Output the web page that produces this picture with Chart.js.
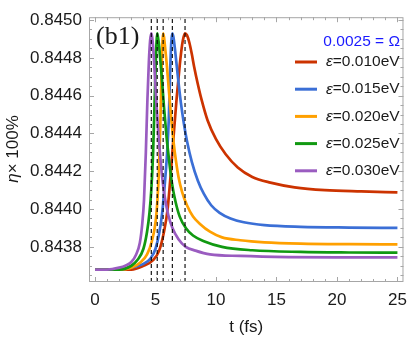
<!DOCTYPE html>
<html>
<head>
<meta charset="utf-8">
<script src="https://cdn.jsdelivr.net/npm/chart.js@4.4.1/dist/chart.umd.min.js"></script>
<style>
  html, body { margin: 0; padding: 0; background: #fff; }
</style>
</head>
<body>
<canvas id="line-chart" width="415" height="339"></canvas>
<script>
// #region Data
// ---------------------------------------
const energies = ["0.010", "0.015", "0.020", "0.025", "0.030"];
const lineColors = ["#cc3300", "#3b6fd6", "#ffa000", "#119911", "#9a5cc0"];
const peakTimes = [7.44, 6.39, 5.63, 5.14, 4.65];
const omegaLabel = "0.0025 = \u03a9";

const xTicks = [0, 5, 10, 15, 20, 25];
const yTicks = [0.8438, 0.844, 0.8442, 0.8444, 0.8446, 0.8448, 0.845];

const tRed = [0, 2, 3, 4, 4.8, 5.3, 5.7, 6.0, 6.25, 6.5, 6.75, 7.0, 7.2, 7.32, 7.44, 7.6, 7.8, 8.0, 8.2, 8.5, 8.8, 9.3, 10.0, 10.8, 11.8, 13, 14.5, 16.5, 19, 22, 25];
const etaRed = [0.84368, 0.84368, 0.84368, 0.8437, 0.84373, 0.84378, 0.84388, 0.844, 0.84418, 0.84439, 0.84459, 0.84476, 0.84487, 0.84491, 0.84493, 0.84492, 0.84488, 0.84482, 0.84475, 0.84466, 0.84458, 0.84447, 0.84437, 0.84429, 0.84422, 0.84417, 0.84414, 0.844115, 0.8441, 0.844093, 0.844088];

const tBlue = [0, 2, 3, 4, 4.6, 5.0, 5.3, 5.55, 5.75, 5.95, 6.1, 6.2, 6.3, 6.39, 6.48, 6.6, 6.75, 6.9, 7.1, 7.35, 7.6, 8.0, 8.5, 9.0, 9.6, 10.3, 11.2, 12.3, 14, 17, 21, 25];
const etaBlue = [0.84368, 0.84368, 0.84369, 0.84371, 0.84374, 0.84379, 0.84387, 0.84398, 0.84412, 0.84429, 0.84448, 0.84471, 0.84488, 0.84493, 0.84491, 0.84485, 0.84476, 0.84467, 0.84456, 0.84445, 0.84436, 0.84425, 0.84415, 0.84408, 0.84402, 0.84398, 0.84395, 0.84393, 0.843915, 0.843906, 0.843902, 0.8439];

const tOrange = [0, 2, 3, 3.8, 4.3, 4.7, 5.0, 5.15, 5.28, 5.4, 5.5, 5.57, 5.63, 5.7, 5.8, 5.95, 6.1, 6.3, 6.5, 6.7, 6.9, 7.2, 7.6, 8.1, 8.7, 9.5, 10.5, 12, 14, 17, 21, 25];
const etaOrange = [0.84368, 0.84368, 0.84369, 0.84372, 0.84376, 0.84383, 0.84393, 0.84404, 0.8442, 0.84445, 0.84473, 0.84488, 0.84493, 0.84491, 0.84485, 0.84475, 0.84463, 0.84448, 0.84435, 0.84425, 0.84417, 0.84409, 0.84402, 0.84396, 0.84392, 0.84388, 0.84385, 0.843835, 0.843824, 0.843817, 0.843814, 0.843813];

const tGreen = [0, 2, 3, 3.5, 4.0, 4.3, 4.5, 4.65, 4.8, 4.93, 5.03, 5.09, 5.14, 5.2, 5.3, 5.42, 5.55, 5.7, 5.9, 6.1, 6.35, 6.65, 7.0, 7.5, 8.1, 9, 10.5, 13, 17, 21, 25];
const etaGreen = [0.84368, 0.84368, 0.8437, 0.84373, 0.84379, 0.84388, 0.84398, 0.8441, 0.8443, 0.84458, 0.8448, 0.84489, 0.84493, 0.84491, 0.84486, 0.84477, 0.84467, 0.84454, 0.84439, 0.84427, 0.84414, 0.84404, 0.84396, 0.8439, 0.84386, 0.84383, 0.8438, 0.843782, 0.843773, 0.84377, 0.843769];

const tPurple = [0, 1, 2, 2.5, 3, 3.4, 3.7, 3.9, 4.05, 4.2, 4.33, 4.45, 4.55, 4.65, 4.72, 4.82, 4.95, 5.1, 5.25, 5.4, 5.6, 5.8, 6.05, 6.4, 6.9, 7.5, 8.3, 9.5, 12, 16, 20, 25];
const etaPurple = [0.84368, 0.84368, 0.84369, 0.8437, 0.84372, 0.84376, 0.84382, 0.84392, 0.84405, 0.8443, 0.84458, 0.84478, 0.84489, 0.84493, 0.84491, 0.84484, 0.8447, 0.84453, 0.84439, 0.84427, 0.84414, 0.84405, 0.84397, 0.8439, 0.84384, 0.8438, 0.84378, 0.84376, 0.843752, 0.843746, 0.843744, 0.843744];
// ---------------------------------------
// #endregion

const xMin = -0.5;
const xMax = 25.5;
const yMin = 0.843614;
const yMax = 0.845015;

const toPoints = (ts, vs) => ts.map((t, i) => ({ x: t, y: vs[i] }));
const curves = [
  toPoints(tRed, etaRed),
  toPoints(tBlue, etaBlue),
  toPoints(tOrange, etaOrange),
  toPoints(tGreen, etaGreen),
  toPoints(tPurple, etaPurple),
];

const datasets = [];
curves.forEach((pts, i) => {
  datasets.push({
    label: "\u03b5=" + energies[i] + "eV",
    data: pts,
    borderColor: lineColors[i],
    borderWidth: 2.7,
    pointRadius: 0,
    fill: false,
    cubicInterpolationMode: "monotone",
    order: 5 - i + 1,
  });
});
peakTimes.forEach((tp) => {
  datasets.push({
    label: "",
    data: [{ x: tp, y: yMin }, { x: tp, y: yMax }],
    borderColor: "#000",
    borderWidth: 1.1,
    borderDash: [4, 3],
    pointRadius: 0,
    order: 0,
  });
});

const FONT = "'Liberation Sans', Arial, sans-serif";

// frame, inward ticks, titles, legend
const framePlugin = {
  id: "frame",
  afterDraw(chart) {
    const ctx = chart.ctx;
    const { left, right, top, bottom } = chart.chartArea;
    const xs = chart.scales.x;
    const ys = chart.scales.y;
    ctx.save();
    ctx.strokeStyle = "#a6a6a6";
    ctx.lineWidth = 1;
    ctx.strokeRect(left + 0.5, top + 0.5, right - left - 1, bottom - top - 1);

    ctx.beginPath();
    for (let v = 0; v <= 25; v++) {
      const len = v % 5 === 0 ? 5 : 3;
      const px = Math.round(xs.getPixelForValue(v)) + 0.5;
      ctx.moveTo(px, bottom);
      ctx.lineTo(px, bottom - len);
      ctx.moveTo(px, top);
      ctx.lineTo(px, top + len);
    }
    for (let k = 0; k <= 28; k++) {
      const v = 0.84365 + k * 0.00005;
      if (v > yMax) break;
      const len = k % 4 === 3 ? 5 : 3;
      const py = Math.round(ys.getPixelForValue(v)) + 0.5;
      ctx.moveTo(left, py);
      ctx.lineTo(left + len, py);
      ctx.moveTo(right, py);
      ctx.lineTo(right - len, py);
    }
    ctx.stroke();

    // axis titles
    ctx.fillStyle = "#1a1a1a";
    ctx.font = "17px " + FONT;
    ctx.textAlign = "center";
    ctx.textBaseline = "middle";
    ctx.fillText("t (fs)", (left + right) / 2, 327);

    ctx.save();
    ctx.translate(13, 149);
    ctx.rotate(-Math.PI / 2);
    ctx.textAlign = "left";
    ctx.font = "italic 17px " + FONT;
    const wEta = ctx.measureText("\u03b7").width;
    ctx.font = "17px " + FONT;
    const wRest = ctx.measureText("\u00d7 100%").width;
    const x0 = -(wEta + wRest) / 2;
    ctx.font = "italic 17px " + FONT;
    ctx.fillText("\u03b7", x0, 0);
    ctx.font = "17px " + FONT;
    ctx.fillText("\u00d7 100%", x0 + wEta, 0);
    ctx.restore();

    // panel label
    ctx.font = "26px 'Liberation Serif', 'Times New Roman', serif";
    ctx.textAlign = "left";
    ctx.fillText("(b1)", 96, 37);

    // legend
    ctx.textAlign = "right";
    ctx.fillStyle = "#1a1aff";
    ctx.font = "15.5px " + FONT;
    ctx.fillText(omegaLabel, 400, 42);
    energies.forEach((e, i) => {
      const y = 62 + i * 27.2;
      ctx.strokeStyle = lineColors[i];
      ctx.lineWidth = 3;
      ctx.beginPath();
      ctx.moveTo(295, y);
      ctx.lineTo(317, y);
      ctx.stroke();
      ctx.fillStyle = "#1a1a1a";
      ctx.textAlign = "left";
      ctx.font = "italic 15.5px " + FONT;
      ctx.fillText("\u03b5", 326, y);
      const we = ctx.measureText("\u03b5").width;
      ctx.font = "15.5px " + FONT;
      ctx.fillText("=" + e + "eV", 326 + we, y);
    });
    ctx.restore();
  },
};

new Chart(document.getElementById("line-chart"), {
  type: "line",
  data: { datasets: datasets },
  options: {
    responsive: false,
    animation: false,
    devicePixelRatio: 1,
    layout: { padding: { top: 10, right: 6, left: 0, bottom: 0 } },
    plugins: {
      legend: { display: false },
      tooltip: { enabled: false },
    },
    scales: {
      x: {
        type: "linear",
        min: xMin,
        max: xMax,
        grid: { display: false, drawTicks: false },
        border: { display: false },
        afterBuildTicks: (scale) => {
          scale.ticks = xTicks.map((v) => ({ value: v }));
        },
        afterFit: (scale) => {
          scale.height = 57;
        },
        ticks: {
          padding: 8,
          maxRotation: 0,
          color: "#1a1a1a",
          font: { family: FONT, size: 17 },
          callback: (v) => String(v),
        },
      },
      y: {
        type: "linear",
        min: yMin,
        max: yMax,
        grid: { display: false, drawTicks: false },
        border: { display: false },
        afterBuildTicks: (scale) => {
          scale.ticks = yTicks.map((v) => ({ value: v }));
        },
        afterFit: (scale) => {
          scale.width = 89;
        },
        ticks: {
          padding: 7,
          color: "#1a1a1a",
          font: { family: FONT, size: 17 },
          callback: (v) => v.toFixed(4),
        },
      },
    },
  },
  plugins: [framePlugin],
});
</script>
</body>
</html>
